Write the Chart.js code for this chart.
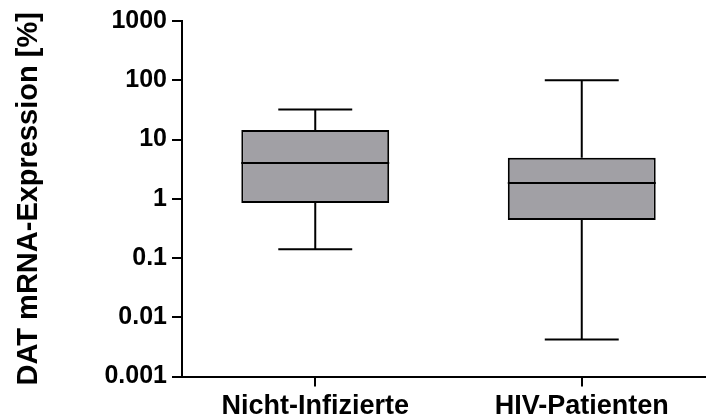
<!DOCTYPE html>
<html>
<head>
<meta charset="utf-8">
<script src="https://cdn.jsdelivr.net/npm/chart.js@4/dist/chart.umd.min.js"></script>
<style>
  html, body { margin: 0; padding: 0; background: #fff; overflow: hidden; }
  #wrap { position: relative; width: 715px; height: 418px; }
</style>
</head>
<body>
<div id="wrap"><canvas id="boxChart"></canvas></div>
<script>
const categories = ["Nicht-Infizierte", "HIV-Patienten"];
const minVals = [0.14, 0.0042];
const q1Vals = [0.85, 0.44];
const medianVals = [4.0, 1.85];
const q3Vals = [14.5, 4.9];
const maxVals = [32, 100];

const yTickValues = [0.001, 0.01, 0.1, 1, 10, 100, 1000];
const yTickLabels = ["0.001", "0.01", "0.1", "1", "10", "100", "1000"];

const FONT = "'Liberation Sans', Arial, Helvetica, sans-serif";

// whiskers, caps and median line drawn on top of the floating bars
const whiskerPlugin = {
  id: "whiskers",
  afterDatasetsDraw(chart) {
    const ctx = chart.ctx;
    const y = chart.scales.y;
    const meta = chart.getDatasetMeta(0);
    ctx.save();
    ctx.strokeStyle = "#000";
    ctx.lineWidth = 2;
    ctx.lineCap = "butt";
    meta.data.forEach((bar, i) => {
      const x = bar.x;
      const half = bar.width / 2;
      const cap = bar.width / 4;
      const yMin = y.getPixelForValue(minVals[i]);
      const yQ1 = y.getPixelForValue(q1Vals[i]);
      const yMed = y.getPixelForValue(medianVals[i]);
      const yQ3 = y.getPixelForValue(q3Vals[i]);
      const yMax = y.getPixelForValue(maxVals[i]);

      ctx.beginPath();
      ctx.moveTo(x, yQ3);
      ctx.lineTo(x, yMax);
      ctx.moveTo(x - cap, yMax);
      ctx.lineTo(x + cap, yMax);
      ctx.moveTo(x, yQ1);
      ctx.lineTo(x, yMin);
      ctx.moveTo(x - cap, yMin);
      ctx.lineTo(x + cap, yMin);
      ctx.moveTo(x - half, yMed);
      ctx.lineTo(x + half, yMed);
      ctx.stroke();
    });
    ctx.restore();
  },
};

new Chart(document.getElementById("boxChart"), {
  type: "bar",
  data: {
    labels: categories,
    datasets: [
      {
        data: categories.map((c, i) => [q1Vals[i], q3Vals[i]]),
        backgroundColor: "#a1a0a5",
        borderColor: "#000",
        borderWidth: 2,
        borderSkipped: false,
        barPercentage: 0.555,
        categoryPercentage: 1,
      },
    ],
  },
  options: {
    responsive: true,
    maintainAspectRatio: false,
    animation: false,
    layout: { padding: { top: 21, left: 0, right: 0, bottom: 0 } },
    plugins: {
      legend: { display: false },
      tooltip: { enabled: false },
    },
    scales: {
      x: {
        type: "category",
        offset: true,
        grid: {
          display: true,
          offset: false,
          drawOnChartArea: false,
          drawTicks: true,
          tickLength: 10,
          color: "#000",
          lineWidth: 2,
        },
        border: { display: true, color: "#000", width: 2 },
        ticks: {
          color: "#000",
          padding: 4,
          maxRotation: 0,
          font: { family: FONT, size: 27, weight: "bold" },
        },
        afterFit(scale) {
          scale.height = 41.5;
        },
      },
      y: {
        type: "logarithmic",
        min: 0.001,
        max: 1000,
        grid: {
          display: true,
          drawOnChartArea: false,
          drawTicks: true,
          tickLength: 10,
          color: "#000",
          lineWidth: 2,
        },
        border: { display: true, color: "#000", width: 2 },
        afterBuildTicks(scale) {
          scale.ticks = yTickValues.map((v) => ({ value: v }));
        },
        ticks: {
          color: "#000",
          padding: 5,
          autoSkip: false,
          font: { family: FONT, size: 25, weight: "bold" },
          callback: (value, index) => yTickLabels[index],
        },
        title: {
          display: true,
          text: "DAT mRNA-Expression [%]",
          color: "#000",
          padding: { top: 12, bottom: 0 },
          font: { family: FONT, size: 29, weight: "bold" },
        },
        afterFit(scale) {
          scale.width = 182;
        },
      },
    },
  },
  plugins: [whiskerPlugin],
});
</script>
</body>
</html>
